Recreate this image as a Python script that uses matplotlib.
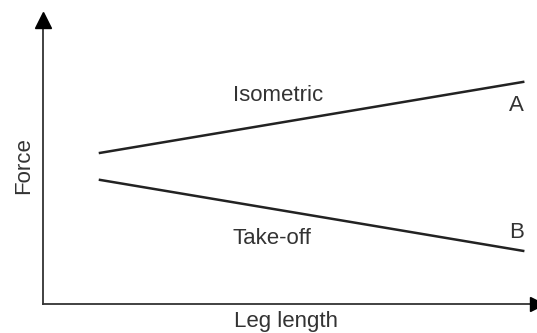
import matplotlib
matplotlib.use('Agg')
import matplotlib.pyplot as plt

# leg length (arbitrary units) and force at the two ends of each line
leg_length = [1.17, 9.86]
isometric = [5.32, 7.82]
takeoff = [4.37, 1.87]

plt.rcParams['font.family'] = ['Liberation Sans', 'DejaVu Sans']

fig = plt.figure(figsize=(5.37, 3.33), dpi=100)
ax = fig.add_axes([43/537, 29/333, 487/537, 284/333])
ax.set_xlim(0, 10)
ax.set_ylim(0, 10)
ax.axis('off')

# axes with arrow heads
ax.plot([0, 10.1], [0, 0], color='#333333', lw=1.3, clip_on=False)
ax.plot([0, 0], [0, 10.1], color='#333333', lw=1.3, clip_on=False)
ax.plot(10.15, 0, marker='>', markersize=10, color='black', clip_on=False)
ax.plot(0, 10.0, marker='^', markersize=11, color='black', clip_on=False)

ax.plot(leg_length, isometric, color='#222222', lw=1.8)
ax.plot(leg_length, takeoff, color='#222222', lw=1.8)

txt = dict(color='#333333', fontsize=16)
ax.text(3.9, 7.33, 'Isometric', ha='left', va='center', **txt)
ax.text(3.9, 2.3, 'Take-off', ha='left', va='center', **txt)
ax.text(9.73, 6.98, 'A', ha='center', va='center', **txt)
ax.text(9.73, 2.5, 'B', ha='center', va='center', **txt)
ax.text(4.99, -0.63, 'Leg length', ha='center', va='center', **txt)
ax.text(-0.39, 4.86, 'Force', ha='center', va='center', rotation=90, **txt)

fig.savefig('out.png', dpi=100)
